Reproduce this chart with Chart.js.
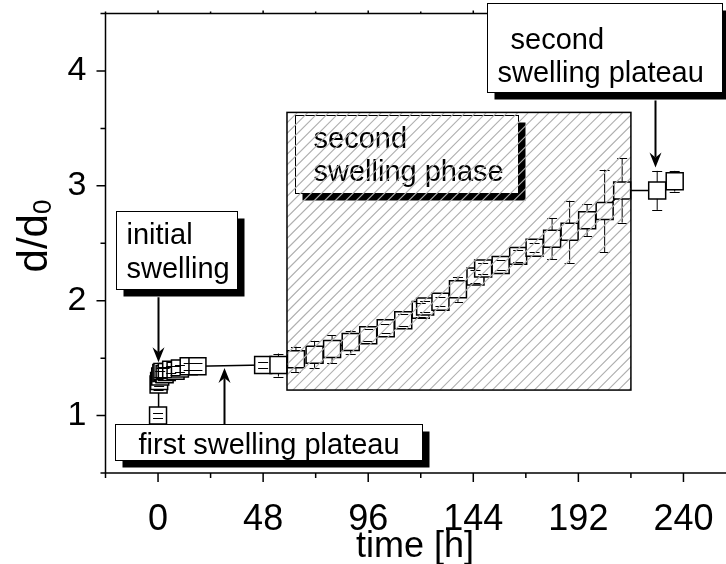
<!DOCTYPE html>
<html>
<head>
<meta charset="utf-8">
<script src="https://cdn.jsdelivr.net/npm/chart.js@4.4.1/dist/chart.umd.min.js"></script>
<style>
  html, body { margin: 0; padding: 0; background: #fff; overflow: hidden; width: 726px; height: 564px; }
  #wrap { position: relative; width: 760px; height: 564px; }
</style>
</head>
<body>
<div id="wrap"><canvas id="c" width="760" height="564"></canvas></div>
<script>
// Swelling ratio d/d0 against time
const timeH = [0, 0.25, 0.5, 1, 1.5, 2, 3, 4, 6, 8, 10, 14, 18,
  48, 55, 63, 71.5, 79.5, 88, 96, 104, 112, 120, 122, 129, 137, 145, 148.5,
  156.5, 164.5, 172, 180, 188, 196, 204, 212, 228, 236];
const ratio = [1.00, 1.27, 1.30, 1.34, 1.37, 1.38, 1.36, 1.38, 1.40, 1.39, 1.41, 1.43, 1.43,
  1.44, 1.44, 1.49, 1.53, 1.58, 1.64, 1.70, 1.76, 1.83, 1.92, 1.95, 1.99, 2.10, 2.21, 2.28,
  2.31, 2.39, 2.46, 2.54, 2.60, 2.70, 2.78, 2.96, 2.96, 3.04];
const ratioErr = [0.02, 0.05, 0.04, 0.05, 0.04, 0.04, 0.05, 0.04, 0.03, 0.04, 0.03, 0.03, 0.03,
  0.03, 0.10, 0.11, 0.12, 0.12, 0.10, 0.05, 0.04, 0.05, 0.06, 0.05, 0.04, 0.11, 0.06, 0.05,
  0.04, 0.05, 0.04, 0.18, 0.27, 0.14, 0.36, 0.28, 0.17, 0.09];

// Axis ticks
const xTickValues = [-24, 0, 24, 48, 72, 96, 120, 144, 168, 192, 216, 240, 264];
const xTickLabels = [0, 48, 96, 144, 192, 240];
const yTickValues = [0.5, 1, 1.5, 2, 2.5, 3, 3.5, 4, 4.5];
const yTickLabels = [1, 2, 3, 4];

// Callout boxes (corners in data units) and their arrows
const callouts = [
  { lines: ['initial', 'swelling'], x0: -19.2, y0: 2.778, x1: 36.1, y1: 2.100,
    textDx: [10, 10], textDy: [32, 66] },
  { lines: ['first swelling plateau'], x0: -19.6, y0: 0.926, x1: 120.6, y1: 0.613,
    textDx: [23], textDy: [29] },
  { lines: ['second', 'swelling phase'], x0: 62.5, y0: 3.613, x1: 164.4, y1: 2.935,
    textDx: [18, 18], textDy: [32, 65] },
  { lines: ['second', 'swelling plateau'], x0: 150.2, y0: 4.59, x1: 257.6, y1: 3.813,
    textDx: [23, 10], textDy: [45, 78] }
];
const arrows = [
  { x: 0, yFrom: 2.03, yTo: 1.465 },
  { x: 30, yFrom: 0.926, yTo: 1.413 },
  { x: 227, yFrom: 3.743, yTo: 3.16 }
];
// Hatched region marking the second swelling phase
const phaseRegion = { x0: 58.9, x1: 216, y0: 3.639, y1: 1.222 };

const FONT = '"Liberation Sans", Arial, Helvetica, sans-serif';

const framePlugin = {
  id: 'frame',
  beforeDatasetsDraw(chart) {
    const { ctx, chartArea: a, scales: { x, y } } = chart;
    ctx.save();
    ctx.strokeStyle = '#000';
    ctx.lineWidth = 1.5;
    ctx.beginPath();
    // left axis, bottom axis and top border
    ctx.moveTo(a.left, a.top); ctx.lineTo(a.left, a.bottom);
    ctx.moveTo(a.left, a.bottom); ctx.lineTo(a.right, a.bottom);
    ctx.moveTo(a.left, a.top); ctx.lineTo(a.right, a.top);
    yTickValues.forEach(v => {
      const py = y.getPixelForValue(v);
      const len = yTickLabels.includes(v) ? 9 : 5;
      ctx.moveTo(a.left - len, py); ctx.lineTo(a.left, py);
    });
    xTickValues.forEach(v => {
      const px = x.getPixelForValue(v);
      const major = xTickLabels.includes(v);
      ctx.moveTo(px, a.bottom); ctx.lineTo(px, a.bottom + (major ? 9 : 5));
      ctx.moveTo(px, a.top); ctx.lineTo(px, a.top - (major ? 3 : 2));
    });
    ctx.stroke();

    // error bar stems behind the symbols
    ctx.lineWidth = 1;
    ctx.beginPath();
    timeH.forEach((t, i) => {
      const px = x.getPixelForValue(t);
      ctx.moveTo(px, y.getPixelForValue(ratio[i] - ratioErr[i]));
      ctx.lineTo(px, y.getPixelForValue(ratio[i] + ratioErr[i]));
    });
    ctx.stroke();
    ctx.restore();
  },
  afterDatasetsDraw(chart) {
    const { ctx, scales: { x, y } } = chart;
    ctx.save();
    // error bar caps
    ctx.strokeStyle = '#000';
    ctx.lineWidth = 1;
    ctx.beginPath();
    timeH.forEach((t, i) => {
      const px = x.getPixelForValue(t);
      [ratio[i] - ratioErr[i], ratio[i] + ratioErr[i]].forEach(v => {
        const py = Math.round(y.getPixelForValue(v)) + 0.5;
        ctx.moveTo(px - 5, py); ctx.lineTo(px + 5, py);
      });
    });
    ctx.stroke();

    // arrows
    arrows.forEach(ar => {
      const px = Math.round(x.getPixelForValue(ar.x)) + 0.5;
      const p0 = y.getPixelForValue(ar.yFrom);
      const p1 = y.getPixelForValue(ar.yTo);
      const dir = p1 > p0 ? 1 : -1;
      ctx.lineWidth = 2;
      ctx.beginPath();
      ctx.moveTo(px, p0); ctx.lineTo(px, p1 - dir * 10);
      ctx.stroke();
      ctx.beginPath();
      ctx.moveTo(px, p1);
      ctx.lineTo(px - 6, p1 - dir * 15);
      ctx.lineTo(px, p1 - dir * 10);
      ctx.lineTo(px + 6, p1 - dir * 15);
      ctx.closePath();
      ctx.fillStyle = '#000';
      ctx.fill();
    });

    // callout boxes with drop shadows
    ctx.font = '29px ' + FONT;
    ctx.textBaseline = 'alphabetic';
    callouts.forEach(c => {
      const l = Math.round(x.getPixelForValue(c.x0)) + 0.5;
      const r = Math.round(x.getPixelForValue(c.x1)) + 0.5;
      const t = Math.round(y.getPixelForValue(c.y0)) + 0.5;
      const b = Math.round(y.getPixelForValue(c.y1)) + 0.5;
      ctx.fillStyle = '#000';
      ctx.fillRect(l + 7, t + 7, r - l, b - t);
      ctx.fillStyle = '#fff';
      ctx.fillRect(l, t, r - l, b - t);
      ctx.lineWidth = 1;
      ctx.strokeStyle = '#000';
      ctx.strokeRect(l, t, r - l, b - t);
      ctx.fillStyle = '#000';
      c.lines.forEach((s, k) => ctx.fillText(s, l + c.textDx[k], t + c.textDy[k]));
    });

    // hatched region on top
    const hx0 = x.getPixelForValue(phaseRegion.x0);
    const hx1 = x.getPixelForValue(phaseRegion.x1);
    const hy0 = y.getPixelForValue(phaseRegion.y0);
    const hy1 = y.getPixelForValue(phaseRegion.y1);
    const w = hx1 - hx0, h = hy1 - hy0;
    ctx.save();
    ctx.beginPath();
    ctx.rect(hx0, hy0, w, h);
    ctx.clip();
    ctx.strokeStyle = '#b0b0b0';
    ctx.lineWidth = 1.1;
    ctx.beginPath();
    for (let k = -h; k < w; k += 10.5) {
      ctx.moveTo(hx0 + k, hy1);
      ctx.lineTo(hx0 + k + h, hy0);
    }
    ctx.stroke();
    ctx.restore();
    ctx.strokeStyle = '#000';
    ctx.lineWidth = 1.5;
    ctx.strokeRect(hx0, hy0, w, h);
    ctx.restore();
  },
  afterDraw(chart) {
    const { ctx } = chart;
    ctx.save();
    ctx.fillStyle = '#000';
    // x title
    ctx.font = '36px ' + FONT;
    ctx.textAlign = 'center';
    ctx.textBaseline = 'alphabetic';
    ctx.fillText('time [h]', 415, 557);
    // y title with subscript
    ctx.translate(47, 236);
    ctx.rotate(-Math.PI / 2);
    const main = 'd/d';
    ctx.font = '42px ' + FONT;
    const mw = ctx.measureText(main).width;
    ctx.font = '26px ' + FONT;
    const sw = ctx.measureText('0').width;
    const total = mw + sw;
    ctx.font = '42px ' + FONT;
    ctx.textAlign = 'left';
    ctx.fillText(main, -total / 2, 0);
    ctx.font = '26px ' + FONT;
    ctx.fillText('0', -total / 2 + mw, 4);
    ctx.restore();
  }
};

new Chart(document.getElementById('c'), {
  type: 'scatter',
  data: {
    datasets: [{
      data: timeH.map((t, i) => ({ x: t, y: ratio[i] })),
      showLine: true,
      borderColor: '#000',
      borderWidth: 1.5,
      pointStyle: 'rect',
      pointRadius: 12,
      pointBorderWidth: 1.5,
      pointBackgroundColor: '#fff',
      pointBorderColor: '#000',
      tension: 0,
      clip: false
    }]
  },
  options: {
    responsive: false,
    animation: false,
    events: [],
    layout: { padding: { top: 13, right: 24, left: 0, bottom: 0 } },
    plugins: { legend: { display: false }, tooltip: { enabled: false } },
    scales: {
      x: {
        type: 'linear', min: -24, max: 264,
        afterBuildTicks: s => { s.ticks = xTickValues.map(v => ({ value: v })); },
        afterFit: s => { s.height = 91; s.paddingLeft = 0; s.paddingRight = 0; },
        grid: { display: false, drawTicks: false },
        border: { display: false },
        ticks: {
          autoSkip: false, maxRotation: 0, padding: 25, color: '#000',
          font: { family: FONT, size: 36 },
          callback: v => xTickLabels.includes(v) ? String(v) : ''
        }
      },
      y: {
        type: 'linear', min: 0.5, max: 4.5,
        afterBuildTicks: s => { s.ticks = yTickValues.map(v => ({ value: v })); },
        afterFit: s => { s.width = 105.5; s.paddingTop = 0; s.paddingBottom = 0; },
        grid: { display: false, drawTicks: false },
        border: { display: false },
        ticks: {
          autoSkip: false, padding: 19, color: '#000',
          font: { family: FONT, size: 34 },
          callback: v => yTickLabels.includes(v) ? String(v) : ''
        }
      }
    }
  },
  plugins: [framePlugin]
});
</script>
</body>
</html>
